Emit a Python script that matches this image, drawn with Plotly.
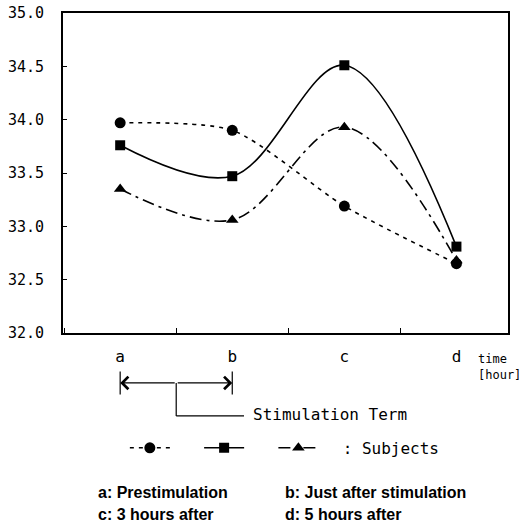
import plotly.graph_objects as go

categories = ["a", "b", "c", "d"]
circle_vals = [33.97, 33.90, 33.19, 32.65]
square_vals = [33.76, 33.47, 34.51, 32.81]
triangle_vals = [33.35, 33.06, 33.93, 32.68]
y_ticks = [32.0, 32.5, 33.0, 33.5, 34.0, 34.5, 35.0]
y_tick_labels = ["32.0", "32.5", "33.0", "33.5", "34.0", "34.5", "35.0"]

MONO = "DejaVu Sans Mono, Liberation Mono, monospace"
BOLDN = "Liberation Sans, Arial, sans-serif"
NB = "\u00a0"

fig = go.Figure()
fig.add_trace(go.Scatter(
    x=categories, y=circle_vals, mode="lines+markers", name=NB * 2,
    line=dict(color="black", width=1.6, dash="4px,5px", shape="spline", smoothing=0.7),
    marker=dict(symbol="circle", size=11, color="black"),
))
fig.add_trace(go.Scatter(
    x=categories, y=square_vals, mode="lines+markers", name=NB * 2,
    line=dict(color="black", width=1.6, shape="spline", smoothing=1.0),
    marker=dict(symbol="square", size=10, color="black"),
))
fig.add_trace(go.Scatter(
    x=categories, y=triangle_vals, mode="lines+markers",
    name=NB * 2 + ": Subjects",
    line=dict(color="black", width=1.6, dash="12px,5px,3px,5px", shape="spline", smoothing=1.0),
    marker=dict(symbol="triangle-up", size=11, color="black"),
))

fig.update_layout(
    width=525, height=527,
    margin=dict(l=63, r=17, t=13, b=194, autoexpand=False),
    paper_bgcolor="white", plot_bgcolor="white",
    font=dict(family=MONO, size=16, color="black"),
    showlegend=True,
    legend=dict(
        orientation="h", x=0.139, xanchor="left", y=-0.359, yanchor="middle",
        font=dict(family=MONO, size=16),
        bgcolor="rgba(0,0,0,0)", itemwidth=40, traceorder="normal",
    ),
    xaxis=dict(
        type="category", categoryorder="array", categoryarray=categories,
        range=[-0.51, 3.46], showline=True, linecolor="black", linewidth=2,
        mirror=True, ticks="inside", ticklen=5, tickson="boundaries",
        tickcolor="black", showgrid=False, zeroline=False, automargin=False,
        ticklabelstandoff=8, tickfont=dict(family=MONO, size=16),
    ),
    yaxis=dict(
        range=[32.0, 35.0], tickvals=y_ticks, ticktext=y_tick_labels,
        showline=True, linecolor="black", linewidth=2, mirror=True,
        ticks="inside", ticklen=4, tickcolor="black", showgrid=False,
        zeroline=False, automargin=False, ticklabelstandoff=14,
        ticklabeloverflow="allow", tickfont=dict(family=MONO, size=15),
    ),
)

# time [hour]
fig.add_annotation(text="time<br>[hour]", xref="paper", yref="paper", x=0.928, y=-0.106,
                   showarrow=False, xanchor="left", yanchor="middle", align="left",
                   font=dict(family=MONO, size=12))

# Stimulation term arrow (between a and b)
arrow_y = -0.156
for start, end in [(0.5, 0), (0.5, 1)]:
    fig.add_annotation(x=end, y=arrow_y, ax=start, ay=0, xref="x", yref="paper",
                       axref="x", ayref="pixel", showarrow=True, arrowhead=4,
                       arrowsize=2.2, arrowwidth=1.1, arrowcolor="black", text="")
for xb in [0, 1]:
    fig.add_shape(type="line", xref="x", yref="paper", x0=xb, x1=xb,
                  y0=arrow_y + 0.036, y1=arrow_y - 0.036, line=dict(color="black", width=1.2))
fig.add_shape(type="line", xref="x", yref="paper", x0=0.5, x1=0.5, y0=arrow_y,
              y1=-0.259, line=dict(color="black", width=1.2))
fig.add_shape(type="line", xref="x", yref="paper", x0=0.5, x1=1.105, y0=-0.259,
              y1=-0.259, line=dict(color="black", width=1.2))
fig.add_annotation(text="Stimulation Term", xref="x", yref="paper", x=1.17, y=-0.256,
                   showarrow=False, xanchor="left", yanchor="middle",
                   font=dict(family=MONO, size=16))

# descriptions
desc = [("a: Prestimulation", 0.074, -0.497), ("b: Just after stimulation", 0.494, -0.497),
        ("c: 3 hours after", 0.074, -0.566), ("d: 5 hours after", 0.494, -0.566)]
for txt, xx, yy in desc:
    fig.add_annotation(text="<b>" + txt + "</b>", xref="paper", yref="paper", x=xx, y=yy,
                       showarrow=False, xanchor="left", yanchor="middle",
                       font=dict(family=BOLDN, size=16))

# remove the browser's default 8px body margin so the 525x527 figure fills the window
fig.write_html("out.html", config={"displayModeBar": False},
               post_script="document.body.style.margin='0px';")
